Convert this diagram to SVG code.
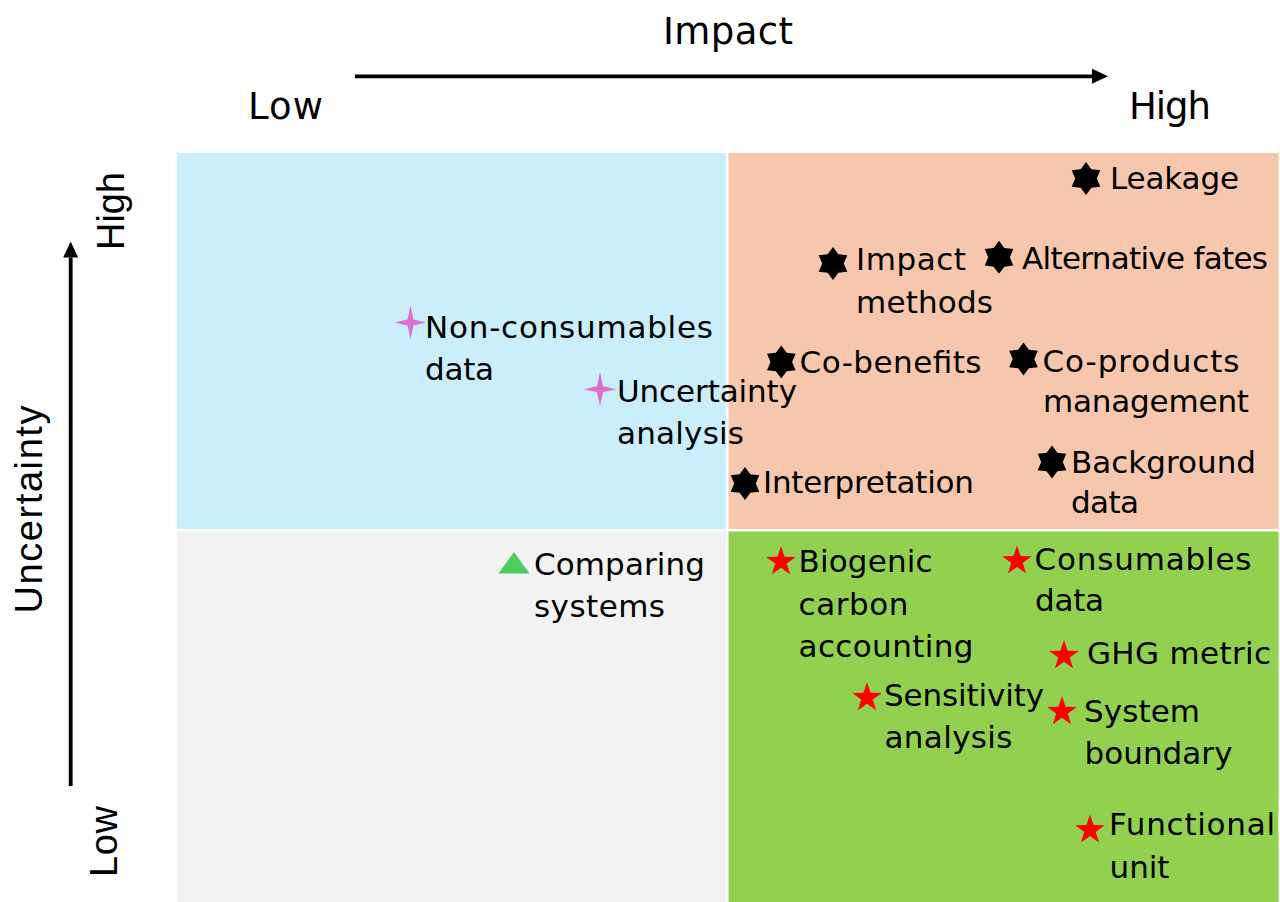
<svg xmlns="http://www.w3.org/2000/svg" xmlns:xlink="http://www.w3.org/1999/xlink" width="1280" height="902" viewBox="0 0 1280 902">
  <style>
    .lbl { font-family: "DejaVu Sans", "Noto Sans", sans-serif; font-size: 31px; fill: #000; }
    .ax { font-family: "DejaVu Sans", "Noto Sans", sans-serif; font-size: 37px; fill: #000; }
    .axv { font-family: "Liberation Sans", Arial, sans-serif; font-size: 38px; fill: #000; }
    .axis { stroke: #000; stroke-width: 3.8; fill: none; }
    .hex { fill: #000; }
    .red { fill: #FF0000; }
    .pink { fill: #D970D2; }
    .tri { fill: #4CCD5E; }
  </style>
  <defs>
    <marker id="arrow" viewBox="0 0 16 16" markerWidth="16" markerHeight="16" refX="0" refY="8" orient="auto" markerUnits="userSpaceOnUse">
      <path d="M0,0.5 L16,8 L0,15.5 Z" fill="#000"/>
    </marker>
    <path id="hexstar" d="M0,-16.5 L5.4,-9.35 L14.29,-8.25 L10.8,0 L14.29,8.25 L5.4,9.35 L0,16.5 L-5.4,9.35 L-14.29,8.25 L-10.8,0 L-14.29,-8.25 L-5.4,-9.35 Z"/>
    <path id="star5" d="M0,-15.5 L3.6,-4.9 L14.75,-4.8 L5.8,1.9 L9.1,12.55 L0,6.1 L-9.1,12.55 L-5.8,1.9 L-14.75,-4.8 L-3.6,-4.9 Z"/>
    <path id="star4" d="M0,-17 L3,-3 L16,0 L3,3 L0,17 L-3,3 L-16,0 L-3,-3 Z"/>
  </defs>

  <rect x="0" y="0" width="1280" height="902" fill="#FFFFFF"/>

  <g id="quadrants">
    <rect id="q-low-impact-high-unc" x="177" y="153" width="549" height="376" fill="#CAEEFB"/>
    <rect id="q-high-impact-high-unc" x="728.5" y="153" width="550" height="376" fill="#F6C6AD"/>
    <rect id="q-low-impact-low-unc" x="177" y="531.5" width="549" height="370.5" fill="#F2F2F2"/>
    <rect id="q-high-impact-low-unc" x="728.5" y="531.5" width="550" height="370.5" fill="#92D050"/>
  </g>

  <g id="connectors">
    <line class="axis" x1="355" y1="76.3" x2="1092" y2="76.3" marker-end="url(#arrow)"/>
    <line class="axis" x1="70.7" y1="786" x2="70.7" y2="257.5" marker-end="url(#arrow)"/>
  </g>

  <g id="axis-labels">
    <text class="ax" x="663" y="43.5" textLength="130">Impact</text>
    <text class="ax" x="248" y="119" textLength="75">Low</text>
    <text class="ax" x="1129" y="119" textLength="82">High</text>
    <text class="axv" transform="translate(124,250) rotate(-90)" textLength="78">High</text>
    <text class="axv" font-size="41" transform="translate(42,613.5) rotate(-90)" textLength="208">Uncertainty</text>
    <text class="axv" transform="translate(116.7,877) rotate(-90)" textLength="71">Low</text>
  </g>

  <g id="node-non-consumables">
    <use href="#star4" xlink:href="#star4" class="pink" x="410.5" y="322.5"/>
    <text class="lbl"><tspan x="425" y="338" textLength="288">Non-consumables</tspan><tspan x="425" y="380" textLength="69">data</tspan></text>
  </g>
  <g id="node-uncertainty-analysis">
    <use href="#star4" xlink:href="#star4" class="pink" x="600" y="389.3"/>
    <text class="lbl"><tspan x="617" y="402" textLength="180">Uncertainty</tspan><tspan x="617" y="443.5" textLength="127">analysis</tspan></text>
  </g>
  <g id="node-comparing-systems">
    <polygon class="tri" points="514,552 529.5,573.5 498.5,573.5"/>
    <text class="lbl"><tspan x="534" y="575" textLength="171">Comparing</tspan><tspan x="534" y="616.7" textLength="131">systems</tspan></text>
  </g>

  <g id="node-leakage">
    <use href="#hexstar" xlink:href="#hexstar" class="hex" x="1086" y="178.5"/>
    <text class="lbl" x="1110" y="189.3" textLength="129">Leakage</text>
  </g>
  <g id="node-impact-methods">
    <use href="#hexstar" xlink:href="#hexstar" class="hex" x="833" y="263.5"/>
    <text class="lbl"><tspan x="856" y="270" textLength="110">Impact</tspan><tspan x="856" y="312.7" textLength="137">methods</tspan></text>
  </g>
  <g id="node-alternative-fates">
    <use href="#hexstar" xlink:href="#hexstar" class="hex" x="999" y="257.3"/>
    <text class="lbl" x="1022" y="269" textLength="246">Alternative fates</text>
  </g>
  <g id="node-co-benefits">
    <use href="#hexstar" xlink:href="#hexstar" class="hex" x="781.3" y="362"/>
    <text class="lbl" x="799.5" y="372.7" textLength="182">Co-benefits</text>
  </g>
  <g id="node-co-products">
    <use href="#hexstar" xlink:href="#hexstar" class="hex" x="1023.5" y="359"/>
    <text class="lbl"><tspan x="1042.5" y="371.7" textLength="197">Co-products</tspan><tspan x="1043" y="411.7" textLength="206">management</tspan></text>
  </g>
  <g id="node-interpretation">
    <use href="#hexstar" xlink:href="#hexstar" class="hex" x="745" y="483.5"/>
    <text class="lbl" x="763" y="493.3" textLength="211">Interpretation</text>
  </g>
  <g id="node-background-data">
    <use href="#hexstar" xlink:href="#hexstar" class="hex" x="1052" y="462"/>
    <text class="lbl"><tspan x="1071" y="473.3" textLength="185">Background</tspan><tspan x="1071" y="513.3" textLength="68">data</tspan></text>
  </g>

  <g id="node-biogenic-carbon">
    <use href="#star5" xlink:href="#star5" class="red" x="781" y="561.7"/>
    <text class="lbl"><tspan x="798.5" y="572.3" textLength="134">Biogenic</tspan><tspan x="798.5" y="615" textLength="110">carbon</tspan><tspan x="798.5" y="656.7" textLength="175">accounting</tspan></text>
  </g>
  <g id="node-consumables-data">
    <use href="#star5" xlink:href="#star5" class="red" x="1017" y="561"/>
    <text class="lbl"><tspan x="1034.5" y="570" textLength="217">Consumables</tspan><tspan x="1035" y="610.7" textLength="69">data</tspan></text>
  </g>
  <g id="node-ghg-metric">
    <use href="#star5" xlink:href="#star5" class="red" x="1064" y="655.7"/>
    <text class="lbl" x="1087" y="664" textLength="184">GHG metric</text>
  </g>
  <g id="node-sensitivity-analysis">
    <use href="#star5" xlink:href="#star5" class="red" x="867" y="697.7"/>
    <text class="lbl"><tspan x="884" y="706" textLength="160">Sensitivity</tspan><tspan x="884.5" y="748.3" textLength="128">analysis</tspan></text>
  </g>
  <g id="node-system-boundary">
    <use href="#star5" xlink:href="#star5" class="red" x="1062" y="711.7"/>
    <text class="lbl"><tspan x="1084" y="721.7" textLength="116">System</tspan><tspan x="1084.5" y="764" textLength="148">boundary</tspan></text>
  </g>
  <g id="node-functional-unit">
    <use href="#star5" xlink:href="#star5" class="red" x="1090" y="830"/>
    <text class="lbl"><tspan x="1109" y="835" textLength="166">Functional</tspan><tspan x="1109.5" y="878.3" textLength="60">unit</tspan></text>
  </g>
</svg>
